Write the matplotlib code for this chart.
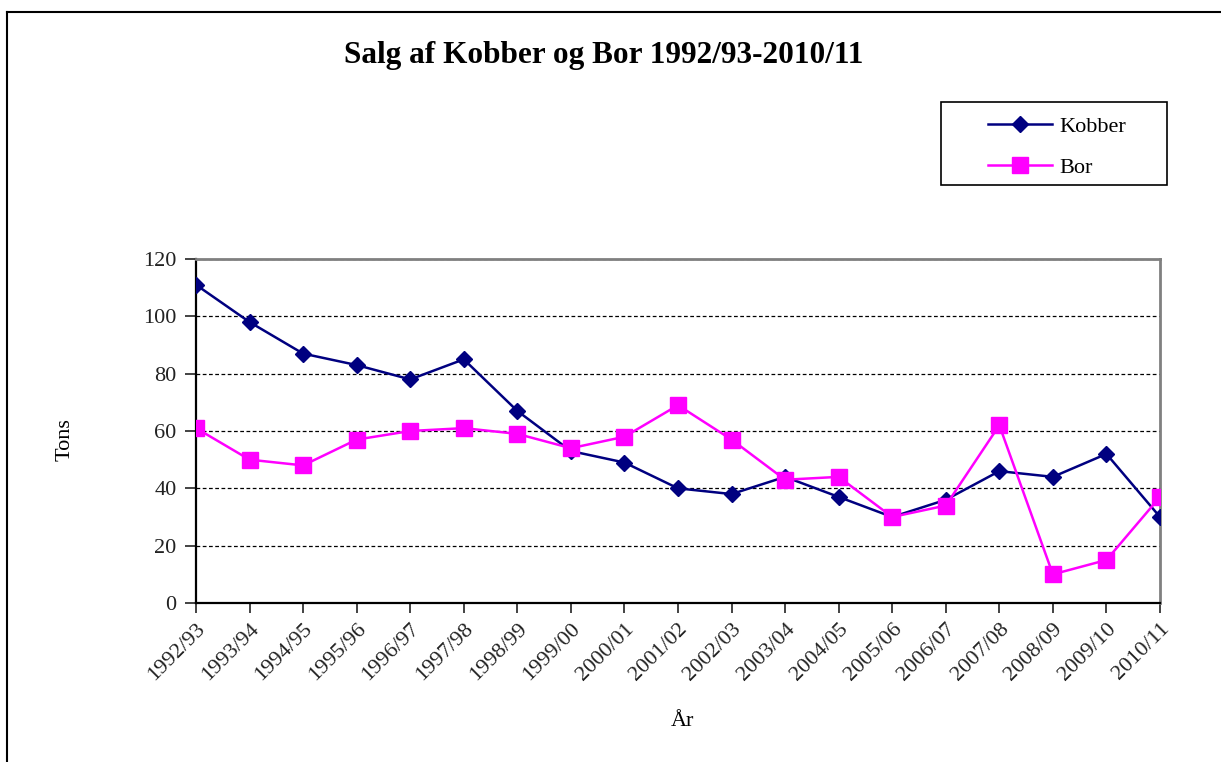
import matplotlib
matplotlib.use('Agg')
import matplotlib.pyplot as plt
from matplotlib.lines import Line2D
from matplotlib.patches import Rectangle

# donnees
years = ['1992/93', '1993/94', '1994/95', '1995/96', '1996/97', '1997/98', '1998/99',
         '1999/00', '2000/01', '2001/02', '2002/03', '2003/04', '2004/05', '2005/06',
         '2006/07', '2007/08', '2008/09', '2009/10', '2010/11']
kobber = [111, 98, 87, 83, 78, 85, 67, 53, 49, 40, 38, 44, 37, 30, 36, 46, 44, 52, 30]
bor = [61, 50, 48, 57, 60, 61, 59, 54, 58, 69, 57, 43, 44, 30, 34, 62, 10, 15, 37]

plt.rcParams['font.family'] = ['Liberation Serif', 'DejaVu Serif']
s = 16 # taille de la font

fig = plt.figure(figsize=(12.21, 7.62), dpi=100)
ax = fig.add_axes([196/1221, 1-603/762, (1160-196)/1221, (603-259)/762])

x = range(len(years))
ax.plot(x, kobber, color='#000080', linewidth=1.8, marker='D', markersize=8,
        label='Kobber', zorder=3)
ax.plot(x, bor, color='#FF00FF', linewidth=1.8, marker='s', markersize=11,
        label='Bor', zorder=3)

ax.set_xlim(0, len(years)-1)
ax.set_ylim(0, 120)
ax.set_yticks(range(0, 121, 20))
ax.set_xticks(list(x))
ax.set_xticklabels(years, rotation=45, ha='right', rotation_mode='anchor', fontsize=s)
ax.tick_params(axis='y', labelsize=s, direction='out', length=8, width=1.2, pad=6,
               colors='#222222')
ax.tick_params(axis='x', direction='out', length=7, width=1.2, pad=5, colors='#222222')
ax.yaxis.grid(True, linestyle=(0, (3, 2)), color='black', linewidth=0.9)
ax.set_axisbelow(True)

for side in ['left', 'bottom']:
    ax.spines[side].set_color('black')
    ax.spines[side].set_linewidth(1.6)
for side in ['top', 'right']:
    ax.spines[side].set_color('#808080')
    ax.spines[side].set_linewidth(2.0)
for sp in ax.spines.values():
    sp.set_clip_on(False)

fig.text(604/1221, 1-55/762, 'Salg af Kobber og Bor 1992/93-2010/11', ha='center',
         va='center', fontsize=22.5, fontweight='bold')
fig.text(65/1221, 1-440/762, 'Tons', rotation=90, ha='center', va='center', fontsize=s)
fig.text(682/1221, 1-722/762, 'År', ha='center', va='center', fontsize=s)

# legende : cadre dessine a part
fig.add_artist(Rectangle((941/1221, 1-185/762), 226/1221, 83/762, fill=False,
                         edgecolor='black', linewidth=1.2, transform=fig.transFigure))
leg = ax.legend(loc='upper left', bbox_to_anchor=(988/1221, 1-116/762),
                bbox_transform=fig.transFigure, frameon=False, fontsize=s,
                handlelength=2.9, labelspacing=0.95, borderpad=0, borderaxespad=0,
                handletextpad=0.3)

# cadre exterieur
fig.add_artist(Line2D([7/1221, 7/1221], [0, 1-12/762], color='black', linewidth=1.5,
                      transform=fig.transFigure))
fig.add_artist(Line2D([7/1221, 1], [1-12/762, 1-12/762], color='black', linewidth=1.5,
                      transform=fig.transFigure))

plt.savefig('out.png', dpi=100)
